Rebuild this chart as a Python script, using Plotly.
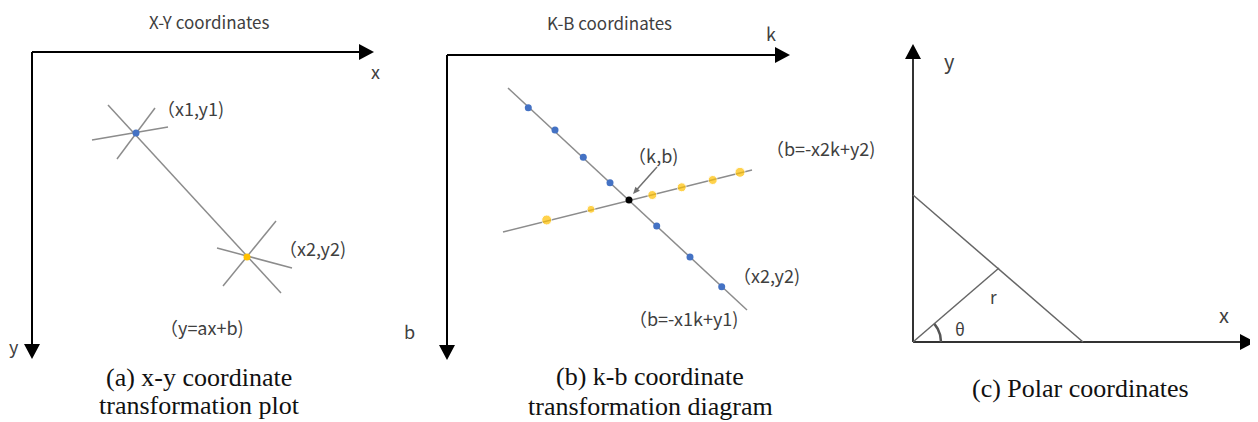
import numpy as np
import plotly.graph_objects as go

W, H = 1258, 422
PAGE_OFFSET = 8  # browser default body margin

# ---------------- data (diagram geometry, pixel space) ----------------
# Panel (a) x-y
a_origin = [32, 52]
a_x_tip = [374, 52]
a_y_tip = [32, 359]
a_pts_x = [136, 247]
a_pts_y = [133, 257]
a_main_x = [108, 281]
a_main_y = [105, 293]
a_star_x = [[155, 117], [92, 168], [276, 223], [217, 292]]
a_star_y = [[108, 159], [140, 127], [221, 286], [248, 268]]

# Panel (b) k-b
b_origin = [447, 55]
b_x_tip = [790, 55]
b_y_tip = [447, 360]
b_line1_x = [508, 747]
b_line1_y = [88, 310]
b_line2_x = [503, 752]
b_line2_y = [232, 170]
b_blue_x = [528.3, 555, 583.3, 610, 656.7, 690, 721.7]
b_blue_y = [107.7, 130, 157.3, 182.7, 226, 257, 286.7]
b_yellow_x = [546.7, 591, 652.3, 681.7, 712.7, 740]
b_yellow_y = [220, 209.3, 195, 187.3, 180, 172.3]
b_yellow_size = [10, 8, 9, 9, 9, 10]
b_cross = [629, 200]
b_arrow_from = [657, 167]

# Panel (c) polar
c_origin = [913, 342]
c_x_tip = [1255, 342]
c_y_tip = [913, 44]
c_hyp_x = [913, 1083]
c_hyp_y = [195, 342]
c_r_end = [999, 268]
c_arc_radius = 28
c_arc_deg = [0, 40]

# Texts: (text, x, y, size)
sans_labels = [
    ("X-Y coordinates", 209, 21, 17),
    ("x", 375, 71, 18),
    ("y", 14, 346, 18),
    ("（x1,y1)", 190, 108, 18),
    ("（x2,y2)", 312, 248, 18),
    ("（y=ax+b)", 202, 327, 18),
    ("K-B coordinates", 609, 22, 17),
    ("k", 771, 33, 18),
    ("b", 409, 331, 18),
    ("（k,b)", 653, 155, 18),
    ("（b=-x2k+y2)", 820, 148, 18),
    ("（x2,y2)", 766, 275, 18),
    ("（b=-x1k+y1)", 683, 318, 18),
    ("y", 949, 60, 20),
    ("x", 1224, 314, 20),
    ("r", 993, 296, 17),
    ("θ", 960, 328, 17),
]
captions = [
    ("(a) x-y coordinate", 199, 377),
    ("transformation plot", 199, 405),
    ("(b) k-b coordinate", 650, 376),
    ("transformation diagram", 650, 406),
    ("(c) Polar coordinates", 1080, 388),
]

BLUE = "#4472C4"
YELLOW = "#FFC000"
GRAY = "#8c8c8c"

fig = go.Figure()


def line(xs, ys, color=GRAY, width=1.5):
    fig.add_trace(go.Scatter(x=xs, y=ys, mode="lines",
                             line=dict(color=color, width=width),
                             hoverinfo="skip", showlegend=False))


def arrowhead(tip, direction, length=15, half=8, color="black"):
    tx, ty = tip
    dx, dy = direction
    n = np.hypot(dx, dy)
    dx, dy = dx / n, dy / n
    bx, by = tx - dx * length, ty - dy * length
    px, py = -dy, dx
    path = (f"M {tx},{ty} L {bx + px * half},{by + py * half} "
            f"L {bx - px * half},{by - py * half} Z")
    fig.add_shape(type="path", path=path, fillcolor=color,
                  line=dict(color=color, width=0), xref="x", yref="y")


# ---- panel (a) ----
line([a_origin[0], a_x_tip[0] - 10], [a_origin[1], a_x_tip[1]], "black", 2)
line([a_origin[0], a_y_tip[0]], [a_origin[1], a_y_tip[1] - 10], "black", 2)
arrowhead(a_x_tip, (1, 0))
arrowhead(a_y_tip, (0, 1))
line(a_main_x, a_main_y)
for sx, sy in zip(a_star_x, a_star_y):
    line(sx, sy)
fig.add_trace(go.Scatter(x=a_pts_x, y=a_pts_y, mode="markers",
                         marker=dict(color=[BLUE, YELLOW], size=7),
                         hoverinfo="skip", showlegend=False))

# ---- panel (b) ----
line([b_origin[0], b_x_tip[0] - 10], [b_origin[1], b_x_tip[1]], "black", 2)
line([b_origin[0], b_y_tip[0]], [b_origin[1], b_y_tip[1] - 10], "black", 2)
arrowhead(b_x_tip, (1, 0))
arrowhead(b_y_tip, (0, 1))
line(b_line1_x, b_line1_y)
line(b_line2_x, b_line2_y)
fig.add_trace(go.Scatter(x=b_blue_x, y=b_blue_y, mode="markers",
                         marker=dict(color=BLUE, size=7),
                         hoverinfo="skip", showlegend=False))
fig.add_trace(go.Scatter(x=b_yellow_x, y=b_yellow_y, mode="markers",
                         marker=dict(color=YELLOW, size=b_yellow_size),
                         hoverinfo="skip", showlegend=False))
fig.add_trace(go.Scatter(x=[b_cross[0]], y=[b_cross[1]], mode="markers",
                         marker=dict(color="black", size=7),
                         hoverinfo="skip", showlegend=False))
# pointer arrow to (k,b)
tip = [b_cross[0] + 4, b_cross[1] - 6]
line([b_arrow_from[0], tip[0] + 3], [b_arrow_from[1], tip[1] - 3.5], "#707070", 1.5)
arrowhead(tip, (tip[0] - b_arrow_from[0], tip[1] - b_arrow_from[1]),
          length=7, half=3, color="#707070")

# ---- panel (c) ----
line([c_origin[0], c_x_tip[0] - 10], [c_origin[1], c_x_tip[1]], "#333333", 2)
line([c_origin[0], c_y_tip[0]], [c_origin[1], c_y_tip[1] + 10], "#333333", 2)
arrowhead(c_x_tip, (1, 0), color="black")
arrowhead(c_y_tip, (0, -1), color="black")
line(c_hyp_x, c_hyp_y, "#666666", 1.5)
line([c_origin[0], c_r_end[0]], [c_origin[1], c_r_end[1]], "#666666", 1.5)
ang = np.radians(np.linspace(c_arc_deg[0], c_arc_deg[1], 30))
line(list(c_origin[0] + c_arc_radius * np.cos(ang)),
     list(c_origin[1] - c_arc_radius * np.sin(ang)), "#555555", 2.5)

# ---- texts ----
for txt, x, y, sz in sans_labels:
    fig.add_annotation(x=x, y=y, text=txt, showarrow=False, xanchor="center",
                       yanchor="middle", borderpad=0,
                       font=dict(family="Noto Sans CJK SC, Noto Sans, sans-serif",
                                 size=sz, color="#404040"))
for txt, x, y in captions:
    fig.add_annotation(x=x, y=y, text=txt, showarrow=False, xanchor="center",
                       yanchor="middle", borderpad=0,
                       font=dict(family="Liberation Serif, Times New Roman, serif",
                                 size=26, color="#111111"))

fig.update_layout(
    width=W, height=H, margin=dict(l=0, r=0, t=0, b=0),
    plot_bgcolor="white", paper_bgcolor="white",
    xaxis=dict(range=[PAGE_OFFSET, W + PAGE_OFFSET], visible=False, fixedrange=True),
    yaxis=dict(range=[H + PAGE_OFFSET, PAGE_OFFSET], visible=False, fixedrange=True),
    showlegend=False,
)
fig.write_html("out.html", config={"displayModeBar": False})
